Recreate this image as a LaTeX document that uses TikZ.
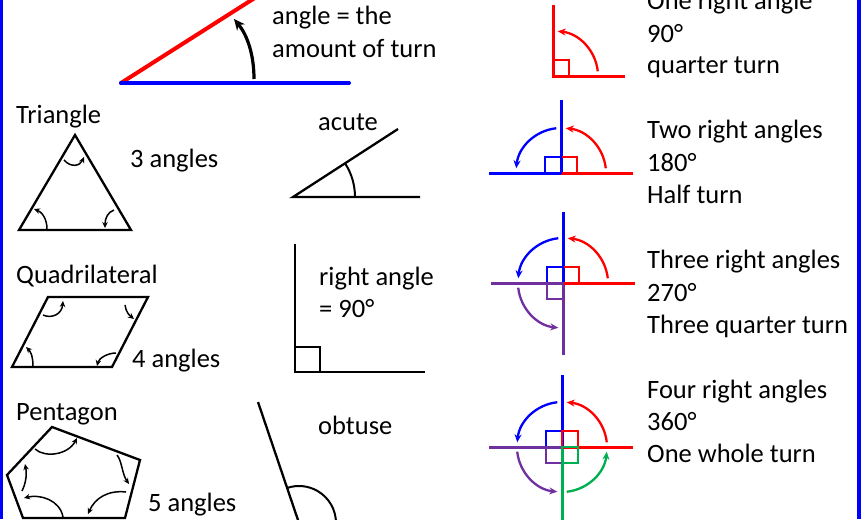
\documentclass[tikz,border=0pt]{standalone}
\usepackage{fontspec}
\setmainfont{Carlito}
\usetikzlibrary{arrows.meta}
\definecolor{pblue}{RGB}{0,0,255}
\definecolor{pred}{RGB}{255,0,0}
\definecolor{ppurple}{RGB}{112,48,160}
\definecolor{pgreen}{RGB}{0,176,80}
\begin{document}
\begin{tikzpicture}[x=1pt,y=-1pt,
  lbl/.style={anchor=base west, inner sep=0pt, font=\fontsize{26.5}{32}\selectfont},
  shapeline/.style={line width=2.3pt, line join=miter},
  turnarr/.style={line width=1.5pt, -{Stealth[length=6pt,width=5.5pt]}},
  cline/.style={line width=3pt},
  carc/.style={line width=2.3pt, -{Stealth[length=8pt,width=7pt]}},
  sq/.style={line width=2.3pt}]
\clip (0,0) rectangle (861,519);
\fill[white] (0,0) rectangle (861,519);
% borders
\fill[pblue] (0,0) rectangle (3,519);
\fill[pblue] (857,0) rectangle (861,519);

% ---- top: amount of turn
\coordinate (tv) at (121,83);
\draw[pred, line width=4pt, line cap=round] (tv) -- (261,-6);
\draw[pblue, line width=4pt, line cap=round] (tv) -- (349,83);
\draw[line width=3.2pt, -{Stealth[length=11pt,width=10pt]}] (254,79) .. controls (254,56) and (248,36) .. (234,19);
\node[lbl] (t1) at (272,25) {angle = the};
\node[lbl] (t2) at (272,58) {amount of turn};

% ---- triangle
\node[lbl] (ltri) at (16,123) {Triangle};
\node[lbl] (ntri) at (130,167) {3 angles};
\draw[shapeline] (75,135) -- (19,230) -- (131,230) -- cycle;
\draw[turnarr] (64,160) .. controls (71,168) and (80,166) .. (84,157);
\draw[turnarr] (47,229) .. controls (47,219) and (42,212) .. (34,209);
\draw[turnarr] (114,210) .. controls (108,212) and (105,218) .. (105,228);

% ---- quadrilateral
\node[lbl] (lquad) at (16,283) {Quadrilateral};
\node[lbl] (nquad) at (132,367) {4 angles};
\draw[shapeline] (48,297) -- (148,297) -- (112,367) -- (12,367) -- cycle;
\draw[turnarr] (43,315) .. controls (52,319) and (62,314) .. (63,301);
\draw[turnarr] (125,305) .. controls (126,312) and (129,315) .. (134,319);
\draw[turnarr] (33,366) .. controls (33,357) and (31,352) .. (26,347);
\draw[turnarr] (116,353) .. controls (108,353) and (99,358) .. (97,366);

% ---- pentagon
\node[lbl] (lpent) at (16,420) {Pentagon};
\node[lbl] (npent) at (148,511) {5 angles};
\draw[shapeline] (52,427) -- (140,460) -- (125,518) -- (23,518) -- (7,475) -- cycle;
\draw[turnarr] (35,449) .. controls (45,458) and (68,455) .. (77,438);
\draw[turnarr] (117,455) .. controls (122,461) and (122,474) .. (129,484);
\draw[turnarr] (126,492) .. controls (108,490) and (95,498) .. (88,514);
\draw[turnarr] (63,517) .. controls (60,500) and (40,494) .. (24,498);
\draw[turnarr] (22,491) .. controls (26,483) and (27,474) .. (25,464);

% ---- acute
\node[lbl] (lacute) at (318,130) {acute};
\coordinate (av) at (293,197);
\draw[shapeline] (398,129) -- (av) -- (420,197);
\draw[line width=2pt] (av) ++(0:62) arc[start angle=0, end angle=-33, radius=62];

% ---- right angle
\node[lbl] (lright1) at (319,285) {right angle};
\node[lbl] (lright2) at (319,317) {= 90°};
\coordinate (rv) at (295,372);
\draw[shapeline] (295,244) -- (rv) -- (425,372);
\draw[sq] (295,347) rectangle (320,372);

% ---- obtuse
\node[lbl] (lobt) at (318,434) {obtuse};
\coordinate (ov) at (299,523);
\draw[shapeline] (258,402) -- (ov) -- (420,523);
\draw[line width=2pt] (ov) ++(0:37) arc[start angle=0, end angle=-108.7, radius=37];

% ---- one right angle
\coordinate (v1) at (553,76);
\draw[pred, cline] (553,5) -- (v1) -- (625,76);
\draw[pred, sq] (553,60) rectangle (569,76);
\draw[pred, carc] (v1) ++(-6:45) arc[start angle=-6, end angle=-84, radius=45];

% ---- two right angles
\coordinate (v2) at (561,173);
\draw[pblue, cline] (561,100) -- (v2) -- (489,173);
\draw[pred, cline] (v2) -- (633,173);
\draw[pred, sq] (561,157) rectangle (577,173);
\draw[pblue, sq] (545,157) rectangle (561,173);
\draw[pred, carc] (v2) ++(-6:45) arc[start angle=-6, end angle=-84, radius=45];
\draw[pblue, carc] (v2) ++(-96:45) arc[start angle=-96, end angle=-174, radius=45];

% ---- three right angles
\coordinate (v3) at (563,283);
\draw[pblue, cline] (563,212) -- (v3);
\draw[ppurple, cline] (v3) -- (563,355);
\draw[ppurple, cline] (491,283) -- (v3);
\draw[pred, cline] (v3) -- (635,283);
\draw[pred, sq] (563,267) rectangle (579,283);
\draw[pblue, sq] (547,267) rectangle (563,283);
\draw[ppurple, sq] (547,283) rectangle (563,299);
\draw[pred, carc] (v3) ++(-6:45) arc[start angle=-6, end angle=-84, radius=45];
\draw[pblue, carc] (v3) ++(-96:45) arc[start angle=-96, end angle=-174, radius=45];
\draw[ppurple, carc] (v3) ++(174:45) arc[start angle=174, end angle=96, radius=45];

% ---- four right angles
\coordinate (v4) at (562,447);
\draw[pblue, cline] (562,375) -- (v4);
\draw[pgreen, cline] (v4) -- (562,522);
\draw[ppurple, cline] (489,447) -- (v4);
\draw[pred, cline] (v4) -- (633,447);
\draw[pblue, sq] (546,431) rectangle (562,447);
\draw[pred, sq] (562,431) rectangle (578,447);
\draw[ppurple, sq] (546,447) rectangle (562,463);
\draw[pgreen, sq] (562,447) rectangle (578,463);
\draw[pred, carc] (v4) ++(-6:45) arc[start angle=-6, end angle=-84, radius=45];
\draw[pblue, carc] (v4) ++(-96:45) arc[start angle=-96, end angle=-174, radius=45];
\draw[ppurple, carc] (v4) ++(174:45) arc[start angle=174, end angle=96, radius=45];
\draw[pgreen, carc] (v4) ++(84:45) arc[start angle=84, end angle=6, radius=45];

% ---- right column text
\node[lbl] (r1a) at (647,9.5) {One right angle};
\node[lbl] (r1b) at (647,42) {90°};
\node[lbl] (r1c) at (647,74) {quarter turn};
\node[lbl] (r2a) at (647,138) {Two right angles};
\node[lbl] (r2b) at (647,171) {180°};
\node[lbl] (r2c) at (647,203) {Half turn};
\node[lbl] (r3a) at (647,268) {Three right angles};
\node[lbl] (r3b) at (647,301) {270°};
\node[lbl] (r3c) at (647,333) {Three quarter turn};
\node[lbl] (r4a) at (647,398) {Four right angles};
\node[lbl] (r4b) at (647,430) {360°};
\node[lbl] (r4c) at (647,462) {One whole turn};
\end{tikzpicture}
\end{document}
